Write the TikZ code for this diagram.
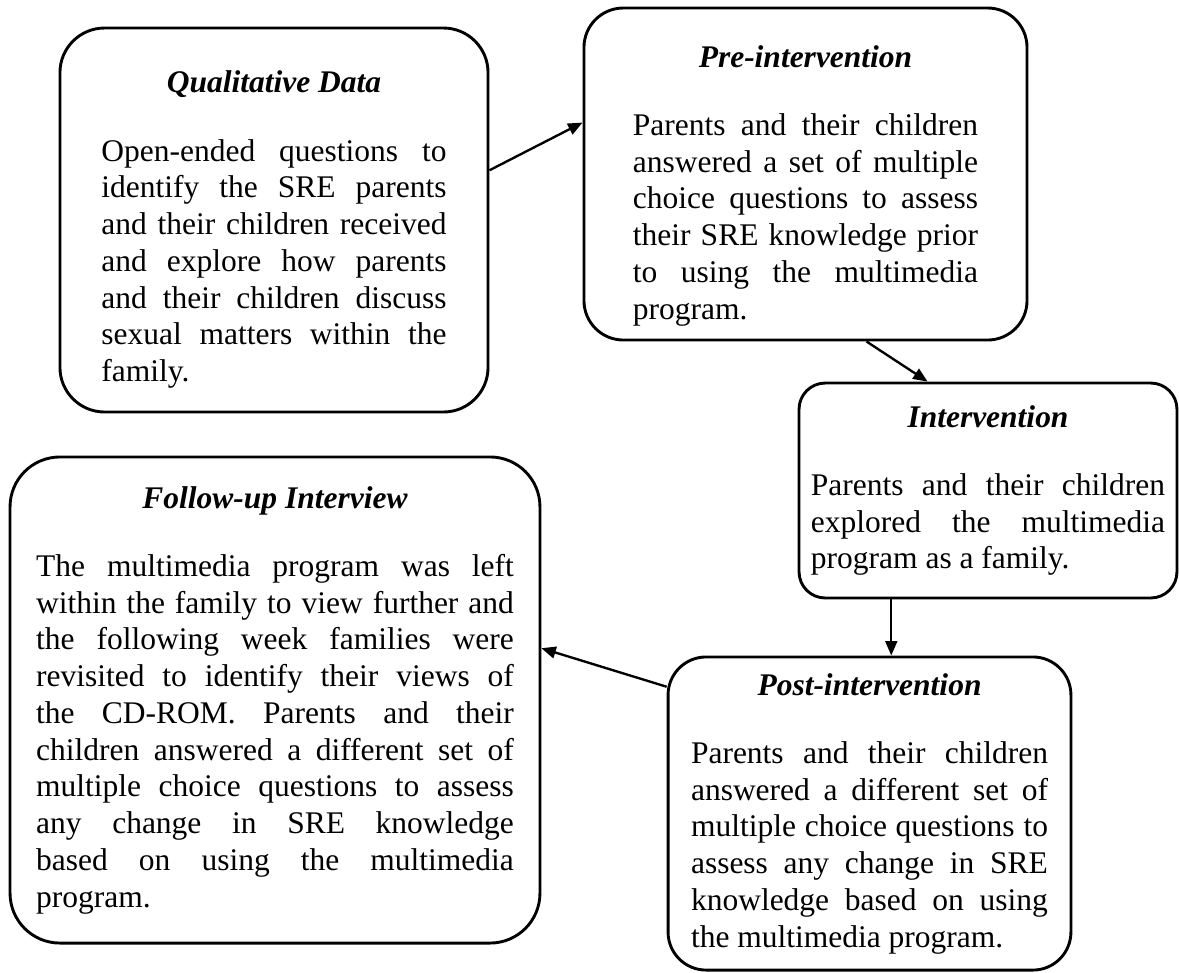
\documentclass[tikz,border=0pt]{standalone}
\usepackage{fontspec}
\setmainfont{Liberation Serif}
\usetikzlibrary{positioning,calc,arrows.meta}
\tolerance=10000
\hbadness=10000
\hyphenpenalty=10000
\exhyphenpenalty=10000
\newcommand\boxtitle[1]{{\centering\bfseries\itshape #1\par}\vspace{12pt}}

\begin{document}
\begin{tikzpicture}[
  x = 0.381pt,
  y = -0.381pt,
  stage/.style = {draw, line width=1.1pt, align=justify, inner sep=0pt,
    font=\fontsize{12}{14}\selectfont},
  arr/.style = {-{Triangle[length=5.5pt,width=4.5pt]}, line width=0.9pt},
  ]
  \useasboundingbox (0,0) rectangle (1179,972);

  \node[stage, rounded corners=17pt, text width=131.5pt, text height=15.8pt,
    minimum width=163.1pt, minimum height=146.3pt] (qual) at (274,220) {%
    \boxtitle{Qualitative Data}
    Open-ended questions to\linebreak identify the SRE parents\linebreak
    and their children received\linebreak and explore how parents\linebreak
    and their children discuss\linebreak sexual matters within the\linebreak
    family.};

  \node[stage, rounded corners=15pt, text width=131.5pt, text height=17.2pt,
    minimum width=168.8pt, minimum height=126.5pt] (pre) at (805.5,174) {%
    \boxtitle{Pre-intervention}
    Parents and their children\linebreak answered a set of multiple\linebreak
    choice questions to assess\linebreak their SRE knowledge prior\linebreak
    to using the multimedia\linebreak program.};

  \node[stage, rounded corners=10pt, text width=134.9pt,
    minimum width=144pt, minimum height=81.9pt] (inter) at (988,490.5) {%
    \boxtitle{Intervention}
    Parents and their children\linebreak explored the multimedia\linebreak
    program as a family.};

  \node[stage, rounded corners=19pt, text width=182pt,
    minimum width=201.9pt, minimum height=185.2pt] (follow) at (275,700) {%
    \boxtitle{Follow-up Interview}
    The multimedia program was left\linebreak
    within the family to view further and\linebreak
    the following week families were\linebreak
    revisited to identify their views of\linebreak
    the CD-ROM. Parents and their\linebreak
    children answered a different set of\linebreak
    multiple choice questions to assess\linebreak
    any change in SRE knowledge\linebreak
    based on using the multimedia\linebreak program.};

  \node[stage, rounded corners=14.5pt, text width=136pt,
    minimum width=153.5pt, minimum height=119.3pt] (post) at (869.5,813.5) {%
    \boxtitle{Post-intervention}
    Parents and their children\linebreak answered a different set of\linebreak
    multiple choice questions to\linebreak assess any change in SRE\linebreak
    knowledge based on using\linebreak the multimedia program.};

  \draw[arr] (qual.13.9) -- (pre.167);
  \draw[arr] (pre.-70.9) -- (inter.119.2);
  \draw[arr] ($(inter.south west)!0.246!(inter.south east)$) coordinate (drop)
    -- (drop |- post.north);
  \draw[arr] (post.148.5) -- (follow.11.3);
\end{tikzpicture}
\end{document}
